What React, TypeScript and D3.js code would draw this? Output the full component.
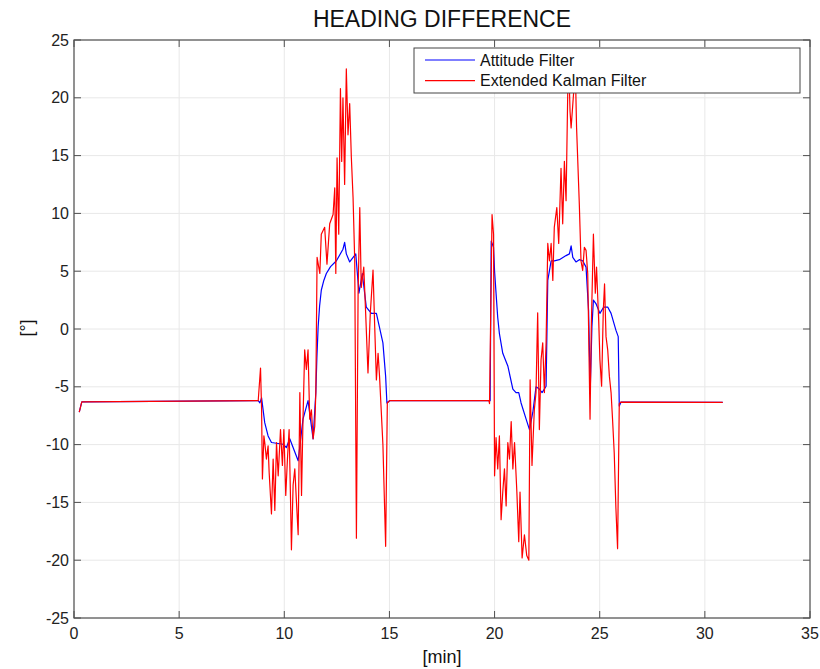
import React from "react";
import * as d3 from "d3";

const xTicks = [0, 5, 10, 15, 20, 25, 30, 35];
const yTicks = [-25, -20, -15, -10, -5, 0, 5, 10, 15, 20, 25];
const seriesNames = ["Attitude Filter", "Extended Kalman Filter"];
const seriesColors = ["#0000ff", "#ff0000"];

const afTime = [0.25, 0.37, 8.76, 8.84, 8.92, 9.07, 9.23, 9.39, 9.94, 10.1, 10.26, 10.66, 10.89, 11.13, 11.37, 11.5, 11.55, 11.61, 11.68, 11.76, 11.88, 12.0, 12.2, 12.48, 12.79, 12.87, 12.95, 13.11, 13.4, 13.55, 13.71, 13.9, 14.14, 14.38, 14.69, 14.82, 14.88, 15.01, 19.79, 19.84, 19.95, 20.0, 20.07, 20.15, 20.23, 20.39, 20.63, 20.87, 21.02, 21.15, 21.26, 21.5, 21.66, 21.82, 21.97, 22.13, 22.26, 22.45, 22.53, 22.69, 22.84, 23.08, 23.4, 23.56, 23.64, 23.72, 23.87, 24.03, 24.19, 24.35, 24.47, 24.55, 24.63, 24.7, 24.82, 25.01, 25.19, 25.38, 25.54, 25.77, 25.88, 25.93, 26.01, 30.85];
const afValue = [-7.2, -6.3, -6.2, -6.39, -5.96, -8.1, -9.25, -9.82, -9.97, -10.25, -9.5, -11.4, -7.8, -6.2, -9.5, -5.5, -2.5, 0.2, 2.0, 3.35, 4.2, 4.8, 5.4, 5.9, 6.9, 7.5, 6.5, 5.8, 6.5, 3.1, 4.8, 1.9, 1.35, 1.35, -1.2, -4.1, -6.4, -6.2, -6.2, 7.6, 7.07, 5.0, 3.1, 1.0, -0.4, -2.1, -3.2, -5.2, -5.5, -5.5, -6.4, -7.8, -8.7, -7.2, -5.0, -5.2, -5.5, -4.95, 4.2, 5.9, 5.9, 6.0, 6.35, 6.5, 7.2, 6.2, 5.8, 6.0, 5.9, 5.35, 1.6, -5.2, 0.2, 2.5, 2.2, 1.35, 1.9, 1.9, 1.35, -0.1, -0.66, -6.67, -6.33, -6.35];

const ekfTime = [0.25, 0.37, 8.76, 8.87, 8.92, 8.96, 9.03, 9.07, 9.15, 9.23, 9.28, 9.39, 9.47, 9.55, 9.63, 9.71, 9.82, 9.91, 9.98, 10.07, 10.15, 10.23, 10.29, 10.34, 10.42, 10.5, 10.58, 10.66, 10.74, 10.82, 10.89, 10.97, 11.05, 11.13, 11.21, 11.29, 11.37, 11.45, 11.5, 11.56, 11.69, 11.76, 11.92, 12.03, 12.16, 12.32, 12.4, 12.45, 12.51, 12.59, 12.67, 12.73, 12.79, 12.87, 12.95, 13.03, 13.11, 13.19, 13.27, 13.35, 13.43, 13.51, 13.59, 13.66, 13.78, 13.87, 13.98, 14.09, 14.22, 14.3, 14.38, 14.46, 14.53, 14.69, 14.82, 14.9, 15.01, 19.73, 19.76, 19.88, 19.95, 20.0, 20.07, 20.15, 20.23, 20.31, 20.39, 20.47, 20.55, 20.63, 20.71, 20.79, 20.87, 20.95, 21.06, 21.15, 21.21, 21.31, 21.42, 21.53, 21.63, 21.69, 21.78, 21.89, 21.97, 22.05, 22.13, 22.21, 22.29, 22.37, 22.45, 22.53, 22.61, 22.69, 22.77, 22.84, 22.96, 23.05, 23.16, 23.24, 23.32, 23.4, 23.48, 23.53, 23.59, 23.64, 23.75, 23.84, 23.9, 24.03, 24.11, 24.19, 24.27, 24.35, 24.43, 24.54, 24.6, 24.7, 24.79, 24.85, 24.95, 25.01, 25.09, 25.17, 25.23, 25.3, 25.38, 25.46, 25.54, 25.61, 25.69, 25.77, 25.85, 25.93, 26.0, 30.85];
const ekfValue = [-7.2, -6.3, -6.2, -3.38, -6.9, -12.97, -9.25, -9.8, -11.25, -10.1, -12.4, -16.0, -11.25, -15.7, -9.82, -12.7, -8.7, -11.8, -8.7, -14.4, -11.25, -8.7, -14.1, -19.1, -13.5, -12.1, -15.0, -17.8, -5.5, -14.4, -7.8, -1.8, -3.5, -1.8, -7.8, -7.0, -9.5, -8.4, -5.5, 6.2, 4.8, 8.2, 8.8, 5.6, 9.1, 9.9, 12.2, 4.8, 14.8, 8.2, 20.8, 14.5, 20.0, 12.5, 22.5, 16.8, 19.5, 14.8, 11.4, 5.9, -18.1, 3.1, 10.5, 3.6, 5.35, 1.35, -3.8, 1.35, 5.1, 0.2, -4.4, -2.1, -4.1, -10.0, -18.8, -6.4, -6.2, -6.2, -6.45, 9.9, 8.2, -12.7, -9.4, -12.1, -9.25, -16.5, -14.1, -12.1, -15.3, -9.82, -11.25, -8.0, -12.1, -9.82, -14.1, -18.4, -14.1, -19.8, -17.8, -19.6, -20.0, -4.4, -11.8, -7.0, -5.5, 1.4, -8.7, -2.66, -1.2, -5.5, -1.2, 7.4, 5.9, 7.4, 4.2, 8.8, 10.5, 7.4, 13.9, 9.1, 14.5, 11.1, 20.5, 22.8, 18.8, 17.4, 20.2, 22.5, 17.4, 10.8, 5.9, 5.07, 7.07, 6.8, 4.8, -7.8, 0.2, 8.2, 3.1, 5.35, 0.77, -2.66, -4.95, 1.6, 3.9, -0.66, -1.8, -4.1, -5.5, -7.8, -10.7, -15.5, -19.0, -6.45, -6.33, -6.35];

const W = 820;
const H = 669;
const L = 74, R = 810, T = 40, B = 618;
const FONT = "Liberation Sans, Arial, Helvetica, sans-serif";

export default function App() {
  const x = d3.scaleLinear().domain([0, 35]).range([L, R]);
  const y = d3.scaleLinear().domain([-25, 25]).range([B, T]);
  const line = d3.line<[number, number]>().x(d => x(d[0])).y(d => y(d[1]));
  const af = afTime.map((t, i) => [t, afValue[i]] as [number, number]);
  const ekf = ekfTime.map((t, i) => [t, ekfValue[i]] as [number, number]);
  const tickLen = 7;
  const axisColor = "#505050";

  return (
    <svg width={W} height={H} style={{ position: "absolute", left: 0, top: 0, background: "#fff" }} fontFamily={FONT}>
      <rect x={0} y={0} width={W} height={H} fill="#fff" />
      {/* grid */}
      {xTicks.map(t => (
        <line key={"gx" + t} x1={x(t)} x2={x(t)} y1={T} y2={B} stroke="#e8e8e8" strokeWidth={1} />
      ))}
      {yTicks.map(t => (
        <line key={"gy" + t} x1={L} x2={R} y1={y(t)} y2={y(t)} stroke="#e8e8e8" strokeWidth={1} />
      ))}
      {/* data */}
      <path d={line(af) || ""} fill="none" stroke={seriesColors[0]} strokeWidth={1.2} strokeLinejoin="round" />
      <path d={line(ekf) || ""} fill="none" stroke={seriesColors[1]} strokeWidth={1.2} strokeLinejoin="round" />
      {/* ticks */}
      {xTicks.map(t => (
        <g key={"tx" + t}>
          <line x1={x(t)} x2={x(t)} y1={B} y2={B - tickLen} stroke={axisColor} />
          <line x1={x(t)} x2={x(t)} y1={T} y2={T + tickLen} stroke={axisColor} />
          <text x={x(t)} y={639} textAnchor="middle" fontSize={16} fill="#222">{t}</text>
        </g>
      ))}
      {yTicks.map(t => (
        <g key={"ty" + t}>
          <line x1={L} x2={L + tickLen} y1={y(t)} y2={y(t)} stroke={axisColor} />
          <line x1={R} x2={R - tickLen} y1={y(t)} y2={y(t)} stroke={axisColor} />
          <text x={69} y={y(t)} dy="0.35em" textAnchor="end" fontSize={16} fill="#222">{t}</text>
        </g>
      ))}
      <rect x={L} y={T} width={R - L} height={B - T} fill="none" stroke={axisColor} strokeWidth={1.2} />
      {/* legend */}
      <rect x={414} y={48} width={386} height={45} fill="#fff" stroke="#444" strokeWidth={1} />
      {seriesNames.map((n, i) => (
        <g key={n}>
          <line x1={425} x2={475} y1={60 + i * 20.7} y2={60 + i * 20.7} stroke={seriesColors[i]} strokeWidth={1.2} />
          <text x={480} y={60 + i * 20.7} dy="0.35em" fontSize={16} fill="#111">{n}</text>
        </g>
      ))}
      {/* titles */}
      <text x={442} y={26.5} textAnchor="middle" fontSize={23} fill="#111">HEADING DIFFERENCE</text>
      <text x={442} y={663} textAnchor="middle" fontSize={18} fill="#111">[min]</text>
      <text transform="translate(33,328) rotate(-90)" textAnchor="middle" fontSize={18} fill="#111">[°]</text>
    </svg>
  );
}
